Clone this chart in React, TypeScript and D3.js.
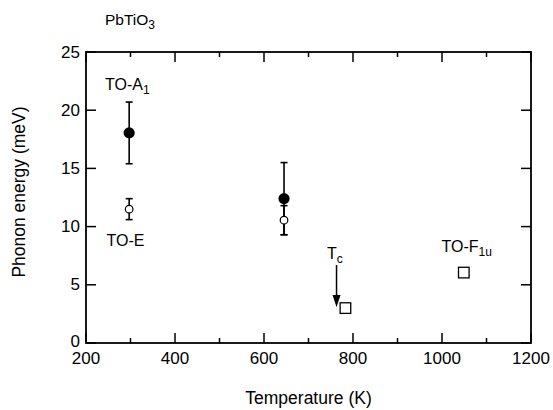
import React from "react";
import * as d3 from "d3";

// Data
const filledT = [297, 645];
const filledE = [18.05, 12.4];
const filledLo = [15.4, 9.3];
const filledHi = [20.7, 15.5];

const openT = [297, 645];
const openE = [11.5, 10.55];
const openLo = [10.6, 9.3];
const openHi = [12.4, 11.8];

const squareT = [783, 1049];
const squareE = [3.0, 6.05];

const xTicks = [200, 400, 600, 800, 1000, 1200];
const xMinor = [300, 500, 700, 900, 1100];
const yTicks = [0, 5, 10, 15, 20, 25];

const arrowT = 763;
const arrowFrom = 6.7;
const arrowTo = 3.1;

const W = 553;
const H = 410;
const L = 86, R = 531, T = 52, B = 343;
const FONT = "'Liberation Sans', Arial, Helvetica, sans-serif";

export default function App() {
  const x = d3.scaleLinear().domain([200, 1200]).range([L, R]);
  const y = d3.scaleLinear().domain([0, 25]).range([B, T]);
  const sw = 1.6;
  const cap = 3.5;
  const fs = 17;

  return (
    <svg width={W} height={H} style={{ position: "absolute", left: 0, top: 0, background: "#fff" }} fontFamily={FONT}>
      <rect x={0} y={0} width={W} height={H} fill="#fff" />
      {/* title */}
      <text x={105} y={25} fontSize={15.5}>PbTiO<tspan fontSize={12} dy={4}>3</tspan></text>

      {/* frame */}
      <rect x={L} y={T} width={R - L} height={B - T} fill="none" stroke="#000" strokeWidth={1.8} />

      {/* x ticks */}
      {xTicks.map((v) => (
        <g key={"xt" + v}>
          <line x1={x(v)} x2={x(v)} y1={B} y2={B - 10} stroke="#000" strokeWidth={1.5} />
          <line x1={x(v)} x2={x(v)} y1={T} y2={T + 10} stroke="#000" strokeWidth={1.5} />
          <text x={x(v)} y={364} fontSize={fs} textAnchor="middle">{v}</text>
        </g>
      ))}
      {xMinor.map((v) => (
        <g key={"xm" + v}>
          <line x1={x(v)} x2={x(v)} y1={B} y2={B - 5} stroke="#000" strokeWidth={1.5} />
          <line x1={x(v)} x2={x(v)} y1={T} y2={T + 5} stroke="#000" strokeWidth={1.5} />
        </g>
      ))}
      {/* y ticks */}
      {yTicks.map((v) => (
        <g key={"yt" + v}>
          <line x1={L} x2={L + 10} y1={y(v)} y2={y(v)} stroke="#000" strokeWidth={1.5} />
          <line x1={R} x2={R - 10} y1={y(v)} y2={y(v)} stroke="#000" strokeWidth={1.5} />
          <text x={80} y={y(v) - (v === 0 ? 2 : 0)} fontSize={fs} textAnchor="end" dominantBaseline="central">{v}</text>
        </g>
      ))}

      {/* axis labels */}
      <text x={(L + R) / 2} y={404} fontSize={17.5} textAnchor="middle">Temperature (K)</text>
      <text transform={`translate(25,192) rotate(-90)`} fontSize={17.5} textAnchor="middle">Phonon energy (meV)</text>

      {/* error bars */}
      {filledT.map((t, i) => (
        <g key={"fe" + i}>
          <line x1={x(t)} x2={x(t)} y1={y(filledLo[i])} y2={y(filledHi[i])} stroke="#000" strokeWidth={sw} />
          <line x1={x(t) - cap} x2={x(t) + cap} y1={y(filledLo[i])} y2={y(filledLo[i])} stroke="#000" strokeWidth={sw} />
          <line x1={x(t) - cap} x2={x(t) + cap} y1={y(filledHi[i])} y2={y(filledHi[i])} stroke="#000" strokeWidth={sw} />
        </g>
      ))}
      {openT.map((t, i) => (
        <g key={"oe" + i}>
          <line x1={x(t)} x2={x(t)} y1={y(openLo[i])} y2={y(openHi[i])} stroke="#000" strokeWidth={sw} />
          <line x1={x(t) - cap} x2={x(t) + cap} y1={y(openLo[i])} y2={y(openLo[i])} stroke="#000" strokeWidth={sw} />
          <line x1={x(t) - cap} x2={x(t) + cap} y1={y(openHi[i])} y2={y(openHi[i])} stroke="#000" strokeWidth={sw} />
        </g>
      ))}
      {filledT.map((t, i) => (
        <circle key={"fc" + i} cx={x(t)} cy={y(filledE[i])} r={5.6} fill="#000" />
      ))}
      {openT.map((t, i) => (
        <circle key={"oc" + i} cx={x(t)} cy={y(openE[i])} r={3.8} fill="#fff" stroke="#000" strokeWidth={1.2} />
      ))}
      {squareT.map((t, i) => (
        <rect key={"sq" + i} x={x(t) - 5.3} y={y(squareE[i]) - 5.3} width={10.6} height={10.6} fill="#fff" stroke="#000" strokeWidth={1.3} />
      ))}

      {/* arrow */}
      <line x1={x(arrowT)} x2={x(arrowT)} y1={y(arrowFrom)} y2={y(arrowTo) - 10} stroke="#000" strokeWidth={1.5} />
      <path d={`M${x(arrowT) - 4},${y(arrowTo) - 12} L${x(arrowT) + 4},${y(arrowTo) - 12} L${x(arrowT)},${y(arrowTo)} Z`} fill="#000" />

      {/* annotations */}
      <text x={105} y={90} fontSize={16}>TO-A<tspan fontSize={12} dy={4}>1</tspan></text>
      <text x={106.5} y={245.5} fontSize={16}>TO-E</text>
      <text x={327} y={259} fontSize={16}>T<tspan fontSize={12} dy={4}>c</tspan></text>
      <text x={441.5} y={251.5} fontSize={16}>TO-F<tspan fontSize={12} dy={4}>1u</tspan></text>
    </svg>
  );
}
